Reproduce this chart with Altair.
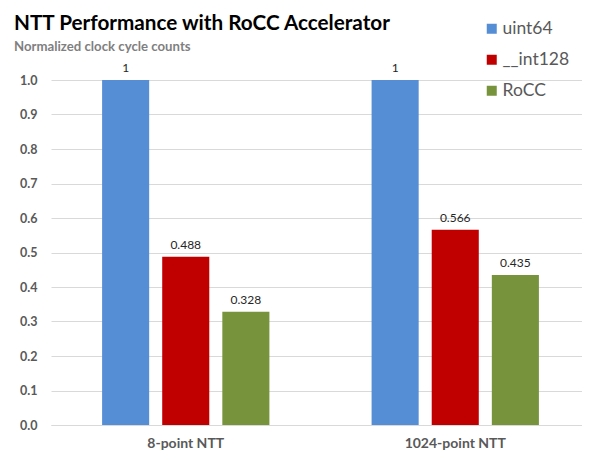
import altair as alt
import pandas as pd

categories = ["8-point NTT", "1024-point NTT"]
series = ["uint64", "__int128", "RoCC"]
values = {
    "uint64": [1.0, 1.0],
    "__int128": [0.488, 0.566],
    "RoCC": [0.328, 0.435],
}
labels = {
    "uint64": ["1", "1"],
    "__int128": ["0.488", "0.566"],
    "RoCC": ["0.328", "0.435"],
}
y_ticks = [0.0, 0.1, 0.2, 0.3, 0.4, 0.5, 0.6, 0.7, 0.8, 0.9, 1.0]
colors = ["#558ED5", "#C00000", "#77933C"]

rows = []
for s in series:
    for i, c in enumerate(categories):
        rows.append({"category": c, "series": s, "value": values[s][i], "label": labels[s][i]})
df = pd.DataFrame(rows)

FONT = "Lato"

x = alt.X("category:N", sort=categories, title=None,
          scale=alt.Scale(paddingInner=0, paddingOuter=0, range=[0, 539]),
          axis=alt.Axis(labelAngle=0, labelFontWeight="bold", labelFontSize=14,
                        labelColor="#595959", labelPadding=11, ticks=False,
                        domainColor="#d9d9d9", labelFont=FONT))
xo = alt.XOffset("series:N", sort=series,
                 scale=alt.Scale(paddingInner=0.217, paddingOuter=0.85))
y = alt.Y("value:Q", title=None,
          scale=alt.Scale(domain=[0, 1.0], nice=False),
          axis=alt.Axis(values=y_ticks,
                        format=".1f", labelFontWeight="bold", labelFontSize=12.5,
                        labelColor="#595959", labelPadding=14, ticks=False,
                        labelOverlap=False, tickCount=11,
                        domain=False, gridColor="#d9d9d9", labelFont=FONT))

bars = alt.Chart(df).mark_bar().encode(
    x=x, xOffset=xo, y=y,
    color=alt.Color("series:N", sort=series, title=None,
                    scale=alt.Scale(domain=series, range=colors),
                    legend=alt.Legend(orient="none", legendX=432, legendY=-60,
                                      symbolType="square", symbolSize=100,
                                      symbolStrokeWidth=0, labelFontSize=17.5,
                                      labelColor="#595959", rowPadding=12,
                                      labelFont=FONT, labelOffset=2)),
)

text = alt.Chart(df).mark_text(dy=-5, fontSize=12, color="#262626", font=FONT,
                               baseline="bottom").encode(
    x=x, xOffset=xo, y=y, text="label:N")

chart = (bars + text).properties(
    width=531, height=345,
    padding={"left": 43, "top": 72, "right": 0, "bottom": 27},
    autosize=alt.AutoSizeParams(type="none"),
    title=alt.TitleParams(
        "NTT Performance with RoCC Accelerator",
        subtitle="Normalized clock cycle counts",
        anchor="start", frame="group", dx=-37, offset=-34,
        font=FONT, fontSize=20.7, fontWeight="bold", color="#000000",
        subtitleFont=FONT, subtitleFontSize=13.2, subtitleFontWeight="bold",
        subtitleColor="#7f7f7f", subtitlePadding=6),
).configure_view(stroke=None)

chart.save("out.html", embed_options={"renderer": "svg", "actions": False})
